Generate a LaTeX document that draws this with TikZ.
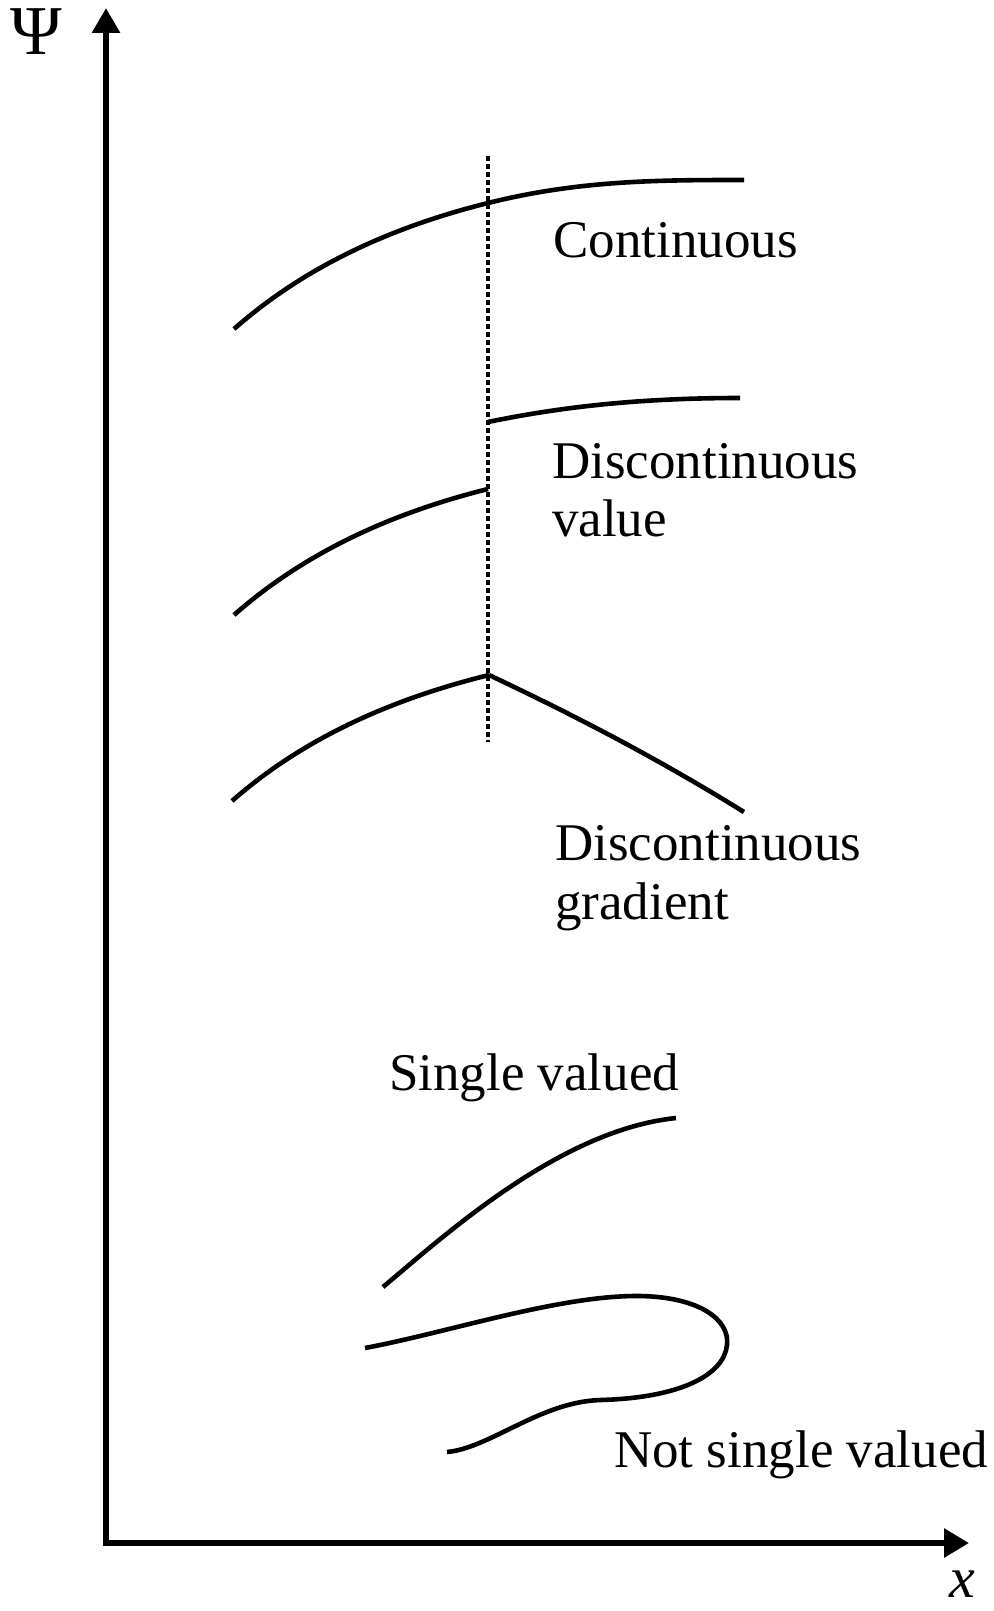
\documentclass[tikz,border=0pt]{standalone}
\usepackage{fontspec}
\setmainfont{Liberation Serif}
\usetikzlibrary{arrows.meta}
\begin{document}
\begin{tikzpicture}[x=1pt,y=-1pt,
  axisline/.style={line width=6pt, line join=miter},
  curveline/.style={line width=4.6pt},
  guide/.style={line width=3.2pt, dash pattern=on 5pt off 3pt},
  lbl/.style={inner sep=0pt, anchor=base west, font=\fontsize{53}{59}\selectfont, align=left}
]
\useasboundingbox (0,0) rectangle (993,1611);
% axes
\coordinate (ytip) at (106,8);
\coordinate (O) at (106,1543);
\coordinate (xtip) at (969,1543);
\draw[axisline, {Triangle[length=25pt,width=27pt]}-{Triangle[length=25pt,width=28pt]}] (ytip) -- (O) -- (xtip);
\node[inner sep=0pt, anchor=base, font=\fontsize{70}{70}\selectfont] (psi) at (36,55) {Ψ};
\node[inner sep=0pt, anchor=base, font=\fontsize{58}{58}\selectfont\itshape] (xl) at (962,1597) {x};
% dotted guide
\coordinate (gtop) at (488,156);
\coordinate (gbot) at (488,742);
\draw[guide] (gtop) -- (gbot);
% continuous
\coordinate (c1a) at (234,329);
\coordinate (c1b) at (488,203);
\coordinate (c1c) at (744,180);
\draw[curveline] (c1a) .. controls (310,262) and (400,225) .. (c1b)
  .. controls (580,180) and (660,180) .. (c1c);
\node[lbl] (cont) at (553,257) {Continuous};
% discontinuous value
\coordinate (c2a) at (234,615);
\coordinate (c2b) at (488,489);
\draw[curveline] (c2a) .. controls (310,548) and (400,511) .. (c2b);
\coordinate (c2c) at (488,422);
\coordinate (c2d) at (740,398);
\draw[curveline] (c2c) .. controls (570,405) and (650,398) .. (c2d);
\node[lbl] (dval1) at (552,478) {Discontinuous};
\node[lbl] (dval2) at (552,536) {value};
% discontinuous gradient
\coordinate (c3a) at (232,801);
\coordinate (c3b) at (489,675);
\coordinate (c3c) at (744,812);
\draw[curveline] (c3a) .. controls (308,734) and (400,697) .. (c3b);
\draw[curveline] (c3b) .. controls (580,718) and (660,760) .. (c3c);
\node[lbl] (dgr1) at (555,860) {Discontinuous};
\node[lbl] (dgr2) at (555,919) {gradient};
% single valued
\coordinate (s1a) at (383,1287);
\coordinate (s1b) at (676,1118);
\draw[curveline] (s1a) .. controls (445,1235) and (560,1130) .. (s1b);
\node[lbl] (sv) at (389,1090) {Single valued};
% not single valued
\coordinate (n1) at (365,1348);
\coordinate (n2) at (640,1296);
\coordinate (n3) at (727,1345);
\coordinate (n4) at (600,1400);
\coordinate (n5) at (447,1452);
\draw[curveline] (n1) .. controls (450,1332) and (560,1295) .. (n2)
  .. controls (700,1297) and (730,1320) .. (n3)
  .. controls (724,1375) and (680,1398) .. (n4)
  .. controls (540,1402) and (490,1448) .. (n5);
\node[lbl] (nsv) at (614,1467) {Not single valued};
\end{tikzpicture}
\end{document}
